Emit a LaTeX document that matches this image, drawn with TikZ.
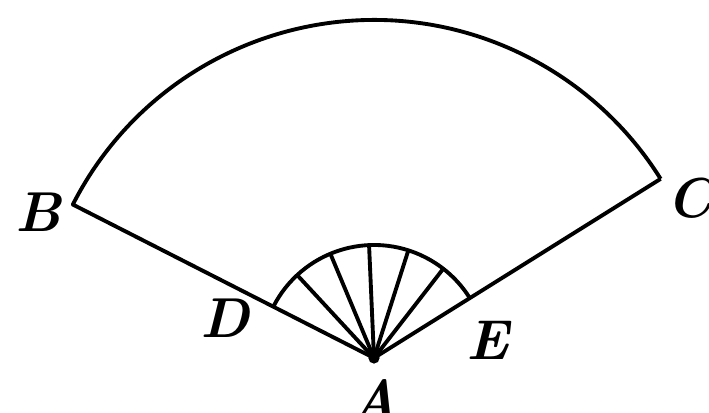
\documentclass[tikz,border=0pt]{standalone}
\usetikzlibrary{positioning}

\begin{document}
\begin{tikzpicture}[line width=1.1pt,line join=round,
    lbl/.style={font=\fontsize{16}{18}\selectfont\bfseries\itshape,inner sep=1pt}]
    \useasboundingbox (-3.74,-0.55) rectangle (3.35,3.58);
    \coordinate (A) at (0,0);
    \coordinate (B) at (153:3.38);
    \coordinate (C) at (32:3.38);
    \coordinate (D) at (153:1.13);
    \coordinate (E) at (32:1.13);
    % outer fan
    \draw (C) -- (A) -- (B) arc[start angle=153,end angle=32,radius=3.38];
    % small fan with ribs
    \draw (D) arc[start angle=153,end angle=32,radius=1.13];
    \foreach \a in {132.8,112.7,92.5,72.3,52.2}
      \draw (A) -- (\a:1.13);
    \fill (A) circle (1.6pt);
    \node[lbl] (lA) at (0.01,-0.42) {A};
    \node[lbl] (lB) at (-3.36,1.46) {B};
    \node[lbl] (lC) at (3.16,1.60) {C};
    \node[lbl] (lD) at (-1.49,0.40) {D};
    \node[lbl] (lE) at (1.14,0.18) {E};
\end{tikzpicture}
\end{document}
